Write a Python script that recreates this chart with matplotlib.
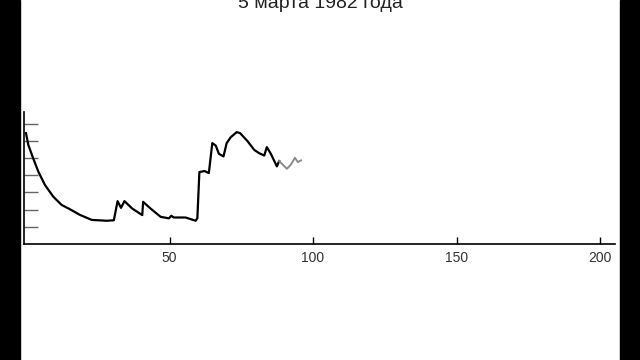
import matplotlib

matplotlib.use("Agg")
import matplotlib.pyplot as plt
from matplotlib.patches import Rectangle

plt.rcParams["font.family"] = ["Liberation Sans", "DejaVu Sans"]

title = "5 марта 1982 года"

# main (black) part of the trace
days = [0, 0.8, 2.5, 4.3, 6.6, 9.5, 12.4, 15.3, 18.8, 22.9, 28.1, 30.6,
        31.9, 33.1, 34.3, 37, 40.5, 40.8, 43.4, 46.9, 49.8, 50.6, 51.5,
        55.6, 59.1, 59.7, 60.4, 62.2, 63.7, 64.9, 66.1, 67.2, 68.8, 69.9,
        71.3, 73.4, 74.6, 77.2, 79.5, 81.2, 83, 83.9, 85.3, 87.4, 88.2]
level = [6.44, 5.76, 4.98, 4.2, 3.43, 2.75, 2.27, 2.02, 1.69, 1.4, 1.35,
         1.38, 2.49, 2.1, 2.49, 2.06, 1.68, 2.45, 2.06, 1.58, 1.49, 1.64,
         1.54, 1.54, 1.35, 1.5, 4.18, 4.24, 4.12, 5.86, 5.72, 5.24, 5.09,
         5.86, 6.2, 6.5, 6.44, 5.97, 5.47, 5.28, 5.14, 5.63, 5.24, 4.51, 4.82]

# faded tail
tail_days = [88.2, 90.9, 92.3, 93.7, 94.7, 95.8]
tail_level = [4.82, 4.37, 4.62, 5.01, 4.76, 4.86]

x_ticks = [50, 100, 150, 200]
y_ticks = [1, 2, 3, 4, 5, 6, 7]

fig = plt.figure(figsize=(6.4, 3.6), dpi=100)
fig.patches.append(Rectangle((0, 0), 19.5 / 640, 1, transform=fig.transFigure,
                             color="black", zorder=10))
fig.patches.append(Rectangle((620 / 640, 0), 20 / 640, 1, transform=fig.transFigure,
                             color="black", zorder=10))

ax = fig.add_axes([24 / 640, 116 / 360, 591 / 640, 132 / 360])
ax.plot(days, level, color="black", linewidth=1.6)
ax.plot(tail_days, tail_level, color="#8a8a8a", linewidth=1.4)

ax.set_xlim(-0.7, 205.2)
ax.set_ylim(0, 7.67)
ax.set_xticks(x_ticks)
ax.set_yticks(y_ticks)
ax.set_yticklabels([])
ax.tick_params(axis="x", direction="in", length=5, width=1, labelsize=10, pad=5,
               colors="black", labelcolor="#333333")
ax.tick_params(axis="y", direction="in", length=10, width=1, colors="#666666")
for side in ("top", "right"):
    ax.spines[side].set_visible(False)
for side in ("left", "bottom"):
    ax.spines[side].set_linewidth(1.2)

fig.text(0.5, 1 - 7.5 / 360, title, ha="center", va="baseline", fontsize=14,
         color="#222222")

fig.savefig("out.png", dpi=100)
